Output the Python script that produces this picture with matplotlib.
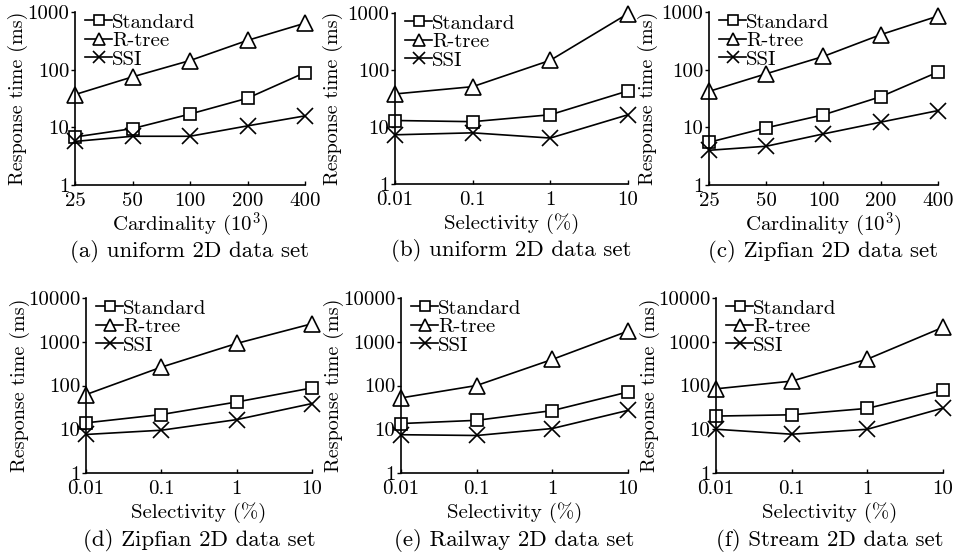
import matplotlib
matplotlib.use("Agg")
import matplotlib.pyplot as plt
from matplotlib.ticker import FixedLocator, FixedFormatter, NullLocator

plt.rcParams['font.family'] = ['cmr10', 'DejaVu Serif']
plt.rcParams['mathtext.fontset'] = 'cm'
plt.rcParams['axes.formatter.use_mathtext'] = True

# x values
cardinality = [25, 50, 100, 200, 400]
card_labels = ['25', '50', '100', '200', '400']
selectivity = [0.01, 0.1, 1, 10]
sel_labels = ['0.01', '0.1', '1', '10']

# (a) uniform, cardinality
a_standard = [6.8, 9.5, 17, 32, 89]
a_rtree = [37, 75, 144, 322, 640]
a_ssi = [5.7, 7.0, 7.0, 10.6, 15.8]

# (b) uniform, selectivity
b_standard = [13, 12.4, 16.4, 43]
b_rtree = [38, 51, 148, 975]
b_ssi = [7.3, 7.9, 6.4, 16.4]

# (c) Zipfian, cardinality
c_standard = [5.5, 9.8, 16.5, 34, 91]
c_rtree = [42, 85, 170, 405, 850]
c_ssi = [4.0, 4.7, 7.7, 12.3, 19.5]

# (d) Zipfian, selectivity
d_standard = [14, 21.7, 42, 88]
d_rtree = [62, 263, 915, 2580]
d_ssi = [7.6, 9.5, 16.6, 38.7]

# (e) Railway, selectivity
e_standard = [13.5, 16, 26.7, 71]
e_rtree = [52, 100, 395, 1750]
e_ssi = [7.5, 7.2, 10.4, 27]

# (f) Stream, selectivity
f_standard = [20, 21.4, 30, 78]
f_rtree = [84, 126, 400, 2140]
f_ssi = [10, 7.7, 10, 30.5]

W, H = 954.0, 560.0
FS = 15

fig = plt.figure(figsize=(W / 100, H / 100), dpi=100)


def draw_panel(box, xs, xlabels, standard, rtree, ssi, ymax, xlabel, caption, ylab_x):
    left, right, top, bottom = box
    ax = fig.add_axes([left / W, 1 - bottom / H, (right - left) / W, (bottom - top) / H])
    style = dict(color='black', lw=1.2, markerfacecolor='white',
                 markeredgewidth=1.2, clip_on=False)
    ax.plot(xs, standard, marker='s', markersize=9, label='Standard', **style)
    ax.plot(xs, rtree, marker='^', markersize=11, label='R-tree', **style)
    ax.plot(xs, ssi, marker='x', markersize=11, label='SSI', **style)
    ax.set_xscale('log')
    ax.set_yscale('log')
    ax.set_xlim(xs[0], xs[-1])
    ax.set_ylim(1, ymax)
    ax.xaxis.set_major_locator(FixedLocator(xs))
    ax.xaxis.set_major_formatter(FixedFormatter(xlabels))
    ax.xaxis.set_minor_locator(NullLocator())
    yt = [10 ** i for i in range(0, len(str(ymax)))]
    ax.yaxis.set_major_locator(FixedLocator(yt))
    ax.yaxis.set_major_formatter(FixedFormatter([str(v) for v in yt]))
    ax.yaxis.set_minor_locator(NullLocator())
    ax.spines['top'].set_visible(False)
    ax.spines['right'].set_visible(False)
    ax.spines['left'].set_linewidth(1.2)
    ax.spines['bottom'].set_linewidth(1.2)
    ax.tick_params(axis='x', direction='in', length=3, width=1, labelsize=FS, pad=5)
    ax.tick_params(axis='y', direction='out', length=3, width=1, labelsize=FS, pad=1)

    # label positions given in pixels, turned into axes coordinates
    def ax_x(px):
        return (px - left) / (right - left)

    def ax_y(py):
        return (bottom - py) / (bottom - top)

    ax.set_ylabel('Response time (ms)', fontsize=FS - 0.5)
    ax.yaxis.set_label_coords(ax_x(ylab_x), 0.5)
    ax.yaxis.label.set_va('center')
    ax.set_xlabel(xlabel, fontsize=FS)
    ax.xaxis.set_label_coords(0.5, ax_y(bottom + 40))
    ax.xaxis.label.set_va('center')

    ax.legend(loc='upper left', frameon=False, fontsize=FS, handlelength=1.3,
              handletextpad=0.0, labelspacing=0.0, borderaxespad=0.0, borderpad=0.0,
              bbox_to_anchor=(ax_x(left + 10), ax_y(top + 1)), markerscale=0.85)
    ax.text(0.5, ax_y(bottom + 67), caption, transform=ax.transAxes, ha='center',
            va='center', fontsize=FS + 1.5)
    return ax


card_xlabel = r'Cardinality ($10^3$)'
sel_xlabel = 'Selectivity (%)'

draw_panel((75, 305, 12, 185), cardinality, card_labels, a_standard, a_rtree, a_ssi,
           1000, card_xlabel, '(a) uniform 2D data set', 18)
draw_panel((395, 628, 13, 184), selectivity, sel_labels, b_standard, b_rtree, b_ssi,
           1000, sel_xlabel, '(b) uniform 2D data set', 333)
draw_panel((709, 938, 12, 185), cardinality, card_labels, c_standard, c_rtree, c_ssi,
           1000, card_xlabel, '(c) Zipfian 2D data set', 648)
draw_panel((86, 312, 298, 473), selectivity, sel_labels, d_standard, d_rtree, d_ssi,
           10000, sel_xlabel, '(d) Zipfian 2D data set', 20)
draw_panel((401, 628, 298, 473), selectivity, sel_labels, e_standard, e_rtree, e_ssi,
           10000, sel_xlabel, '(e) Railway 2D data set', 334)
draw_panel((716, 943, 298, 473), selectivity, sel_labels, f_standard, f_rtree, f_ssi,
           10000, sel_xlabel, '(f) Stream 2D data set', 650)

fig.savefig('out.png', dpi=100)
